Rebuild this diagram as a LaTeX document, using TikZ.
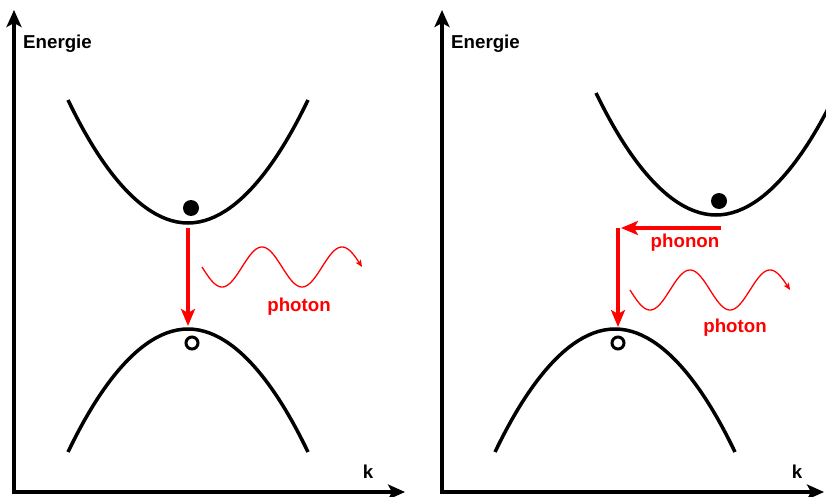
\documentclass[tikz,border=0pt]{standalone}
\usepackage{fontspec}
\setmainfont{Liberation Sans}
\usetikzlibrary{arrows.meta}
\tikzset{
  axis/.style={line width=4pt, -{Stealth[length=17pt,width=15pt,inset=4pt]}},
  band/.style={line width=3.5pt},
  trans/.style={red, line width=3.5pt, -{Stealth[length=17pt,width=14pt,inset=4pt]}},
  wave/.style={red, line width=1.3pt, -{Stealth[length=7pt,width=6pt,inset=1.5pt]}},
  lbl/.style={font=\bfseries\fontsize{18.7}{20}\selectfont, inner sep=0pt, anchor=base},
  rlbl/.style={lbl, text=red},
  electron/.style={circle, fill=black, inner sep=0pt, minimum size=16pt},
  hole/.style={circle, draw=black, line width=3pt, fill=white, inner sep=0pt, minimum size=12pt}
}
\begin{document}
\begin{tikzpicture}[x=1pt,y=-1pt]
\useasboundingbox (0,0) rectangle (826,497);
\clip (0,0) rectangle (826,497);
\fill[white] (0,0) rectangle (826,497);

% ---------- left panel ----------
\coordinate (ytop1) at (14,10);
\coordinate (xend1) at (405,492);
\draw[axis] (14,494) -- (ytop1);
\draw[axis] (12,492) -- (xend1);
\node[lbl] (en1) at (57.5,49) {Energie};
\node[lbl] (k1) at (368,478) {k};

\draw[band] (68,100) parabola bend (188,223) (308,100);
\draw[band] (68,452) parabola bend (188,329) (308,452);

\node[electron] (e1) at (191,208) {};
\node[hole] (h1) at (192,343) {};

\coordinate (a1s) at (188,228);
\coordinate (a1e) at (188,326);
\draw[trans] (a1s) -- (a1e);

\draw[wave] plot[domain=202:362, samples=120, smooth] (\x,{267+20*sin(4.5*(\x-202))});
\node[rlbl] (ph1) at (299,311) {photon};

% ---------- right panel ----------
\coordinate (ytop2) at (442,10);
\coordinate (xend2) at (824,492);
\draw[axis] (442,494) -- (ytop2);
\draw[axis] (440,492) -- (xend2);
\node[lbl] (en2) at (485.5,49) {Energie};
\node[lbl] (k2) at (797,478) {k};

\draw[band] (596,93) parabola bend (716,215) (836,93);
\draw[band] (495,452) parabola bend (615,329) (735,452);

\node[electron] (e2) at (719,201) {};
\node[hole] (h2) at (618,343) {};

\coordinate (b1s) at (721,228);
\coordinate (b1e) at (621,228);
\draw[trans] (b1s) -- (b1e);
\node[rlbl] (pn2) at (685,247) {phonon};

\coordinate (b2s) at (618,228);
\coordinate (b2e) at (618,327);
\draw[trans] (b2s) -- (b2e);

\draw[wave] plot[domain=630:790, samples=120, smooth] (\x,{290+20*sin(4.5*(\x-630))});
\node[rlbl] (ph2) at (735,332) {photon};
\end{tikzpicture}
\end{document}
